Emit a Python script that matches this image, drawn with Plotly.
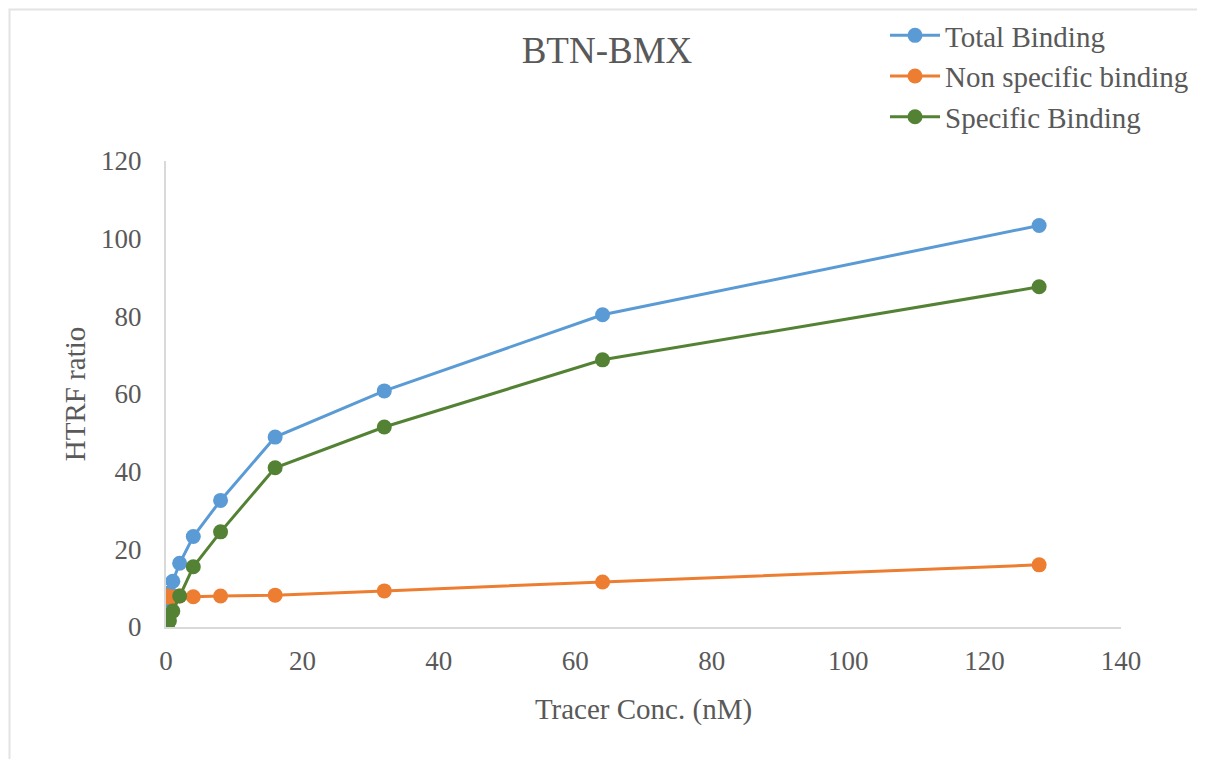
import plotly.graph_objects as go

conc = [0.125, 0.25, 0.5, 1, 2, 4, 8, 16, 32, 64, 128]
total_binding = [7.0, 7.6, 8.8, 11.8, 16.4, 23.3, 32.6, 48.9, 60.8, 80.4, 103.4]
nonspecific_binding = [8.0, 7.8, 7.7, 7.7, 8.0, 7.8, 8.0, 8.2, 9.3, 11.6, 16.0]
specific_binding = [0.5, 0.8, 1.6, 4.1, 8.0, 15.5, 24.5, 41.0, 51.5, 68.8, 87.6]

series_names = ["Total Binding", "Non specific binding", "Specific Binding"]
series_colors = ["#5B9BD5", "#ED7D31", "#548235"]
series_values = [total_binding, nonspecific_binding, specific_binding]

x_ticks = [0, 20, 40, 60, 80, 100, 120, 140]
y_ticks = [0, 20, 40, 60, 80, 100, 120]

FONT = "Liberation Serif, Times New Roman, serif"
GREY = "#595959"
W, H = 1205, 759
OFF = 8  # page body margin
L, R, T, B = 158, 92, 153, 140
pw, ph = W - L - R, H - T - B

fig = go.Figure()
for name, color, vals in zip(series_names, series_colors, series_values):
    fig.add_trace(go.Scatter(
        x=conc, y=vals, name=name, mode="lines+markers",
        line=dict(color=color, width=3),
        marker=dict(color=color, size=15),
    ))

def px_x(p):
    return (p - OFF - L) / pw

def px_y(p):
    return (H - B - (p - OFF)) / ph

fig.update_layout(
    width=W, height=H,
    margin=dict(l=L, r=R, t=T, b=B, autoexpand=False),
    paper_bgcolor="white", plot_bgcolor="white",
    font=dict(family=FONT, color=GREY, size=27),
    title=dict(text="BTN-BMX", xref="container", x=(607 - OFF) / W, xanchor="center",
               yref="container", y=1 - (50 - OFF) / H, yanchor="middle",
               font=dict(family=FONT, size=37, color=GREY)),
    legend=dict(x=px_x(885), xanchor="left", y=px_y(10), yanchor="top",
                font=dict(family=FONT, size=29, color=GREY),
                bgcolor="rgba(0,0,0,0)", itemwidth=50, tracegroupgap=0),
    xaxis=dict(range=[0, 140], tickvals=x_ticks, showgrid=False, zeroline=False,
               showline=True, linecolor="#D9D9D9", linewidth=2, ticks="",
               ticklabelstandoff=9,
               tickfont=dict(family=FONT, size=27, color=GREY),
               title=dict(text="Tracer Conc. (nM)", standoff=23,
                          font=dict(family=FONT, size=29, color=GREY))),
    yaxis=dict(range=[0, 120], tickvals=y_ticks, showgrid=False, zeroline=False,
               showline=True, linecolor="#D9D9D9", linewidth=2, ticks="",
               ticklabelstandoff=17,
               tickfont=dict(family=FONT, size=27, color=GREY),
               title=dict(text="HTRF ratio", standoff=7,
                          font=dict(family=FONT, size=29, color=GREY))),
    shapes=[dict(type="rect", xref="paper", yref="paper",
                 x0=px_x(9.5), x1=px_x(1204), y0=px_y(790), y1=px_y(9.5),
                 line=dict(color="#E3E3E3", width=2), layer="below")],
    showlegend=True,
)

fig.write_html("out.html")
